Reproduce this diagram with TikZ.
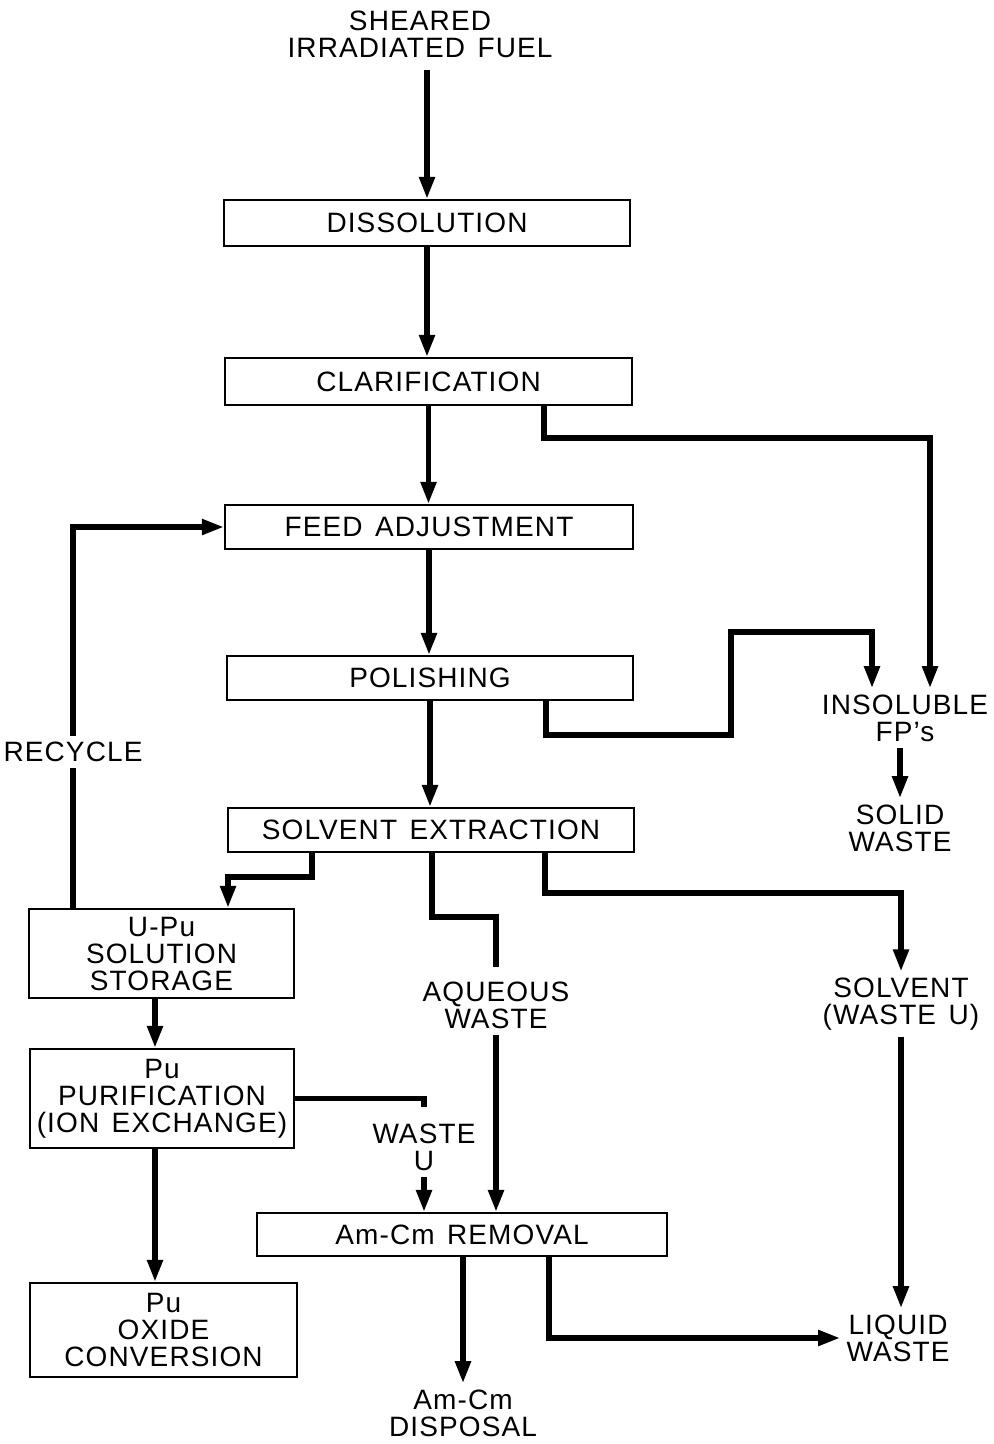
\documentclass[tikz,border=0pt]{standalone}
\usepackage{fontspec}
\setmainfont{Liberation Sans}[LetterSpace=4,WordSpace=1.4]
\usetikzlibrary{arrows.meta}
\begin{document}
\begin{tikzpicture}[x=0.5pt,y=-0.5pt,
  every node/.style={font=\fontsize{14}{13.5}\selectfont, align=center},
  box/.style={draw, line width=1.1pt, inner sep=0pt},
  lbl/.style={inner sep=3pt},
  pipe/.style={line width=2.6pt},
  flow/.style={pipe, -{Triangle[length=11pt,width=7.5pt]}},
]
\useasboundingbox[fill=white] (0,0) rectangle (994,1444);
% labels
\node[lbl] (fuel) at (420,34) {SHEARED\\IRRADIATED FUEL};
\node[lbl] (insol) at (905,718) {INSOLUBLE\\FP's};
\node[lbl] (solid) at (900,828) {SOLID\\WASTE};
\node[lbl] (recycle) at (73,752) {RECYCLE};
\node[lbl] (aqueous) at (496,1005) {AQUEOUS\\WASTE};
\node[lbl] (solvent) at (901,1004) {SOLVENT\\(WASTE U)};
\node[lbl] (wasteu) at (424,1147) {WASTE\\U};
\node[lbl] (liquid) at (898,1338) {LIQUID\\WASTE};
\node[lbl] (disposal) at (463,1413) {Am-Cm\\DISPOSAL};
% boxes
\node[box, minimum width=203pt, minimum height=23pt] (dis) at (427,223) {DISSOLUTION};
\node[box, minimum width=203.5pt, minimum height=23.5pt] (clar) at (428.5,381.5) {CLARIFICATION};
\node[box, minimum width=204pt, minimum height=22pt] (feed) at (429,527) {FEED ADJUSTMENT};
\node[box, minimum width=203pt, minimum height=22pt] (pol) at (430,678) {POLISHING};
\node[box, minimum width=203pt, minimum height=22pt] (sx) at (431,830) {SOLVENT EXTRACTION};
\node[box, minimum width=132.5pt, minimum height=44.5pt] (upu) at (161.5,953.5) {U-Pu\\SOLUTION\\STORAGE};
\node[box, minimum width=132pt, minimum height=49.5pt] (pur) at (162,1098.5) {Pu\\PURIFICATION\\(ION EXCHANGE)};
\node[box, minimum width=133.5pt, minimum height=47pt] (oxide) at (163.5,1330) {Pu\\OXIDE\\CONVERSION};
\node[box, minimum width=205pt, minimum height=21.5pt] (amcm) at (462,1234.5) {Am-Cm REMOVAL};
% bend points
\coordinate (c1) at (544,438);
\coordinate (c2) at (930,438);
\coordinate (p1) at (546,735);
\coordinate (p2) at (731,735);
\coordinate (p3) at (731,632);
\coordinate (p4) at (872,632);
\coordinate (s1) at (312,877);
\coordinate (s2) at (228,877);
\coordinate (m1) at (432,917);
\coordinate (m2) at (496,917);
\coordinate (r1) at (545,893);
\coordinate (r2) at (901,893);
\coordinate (l1) at (549,1338);
\coordinate (u1) at (155,0);
% main chain
\draw[flow, shorten <=3pt] (fuel.south -| dis.north) -- (dis.north);
\draw[flow] (dis.south) -- (dis.south |- clar.north);
\draw[flow] (clar.south) -- (clar.south |- feed.north);
\draw[flow] (feed.south) -- (feed.south |- pol.north);
\draw[flow] (pol.south) -- (pol.south |- sx.north);
% insoluble branches
\draw[flow] (c1 |- clar.south) -- (c1) -- (c2) -- (c2 |- insol.north);
\draw[flow] (p1 |- pol.south) -- (p1) -- (p2) -- (p3) -- (p4) -- (p4 |- insol.north);
\draw[flow] (solid.north |- insol.south) -- (solid.north);
% solvent extraction outputs
\draw[flow] (s1 |- sx.south) -- (s1) -- (s2) -- (s2 |- upu.north);
\draw[pipe, shorten >=4pt] (m1 |- sx.south) -- (m1) -- (m2) -- (m2 |- aqueous.north);
\draw[flow] (aqueous.south) -- (aqueous.south |- amcm.north);
\draw[flow] (r1 |- sx.south) -- (r1) -- (r2) -- (r2 |- solvent.north);
\draw[flow] (solvent.south) -- (solvent.south |- liquid.north);
% recycle
\draw[pipe] (recycle.south |- upu.north) -- (recycle.south);
\draw[flow] (recycle.north) |- (feed.west);
% Pu line
\draw[flow] (u1 |- upu.south) -- (u1 |- pur.north);
\draw[flow] (u1 |- pur.south) -- (u1 |- oxide.north);
\draw[pipe, shorten >=5pt] (pur.east) -- (pur.east -| wasteu.north) -- (wasteu.north);
\draw[flow] (wasteu.south) -- (wasteu.south |- amcm.north);
% Am-Cm outputs
\draw[flow] (disposal.north |- amcm.south) -- (disposal.north);
\draw[flow] (l1 |- amcm.south) -- (l1) -- (liquid.west);
\end{tikzpicture}
\end{document}
